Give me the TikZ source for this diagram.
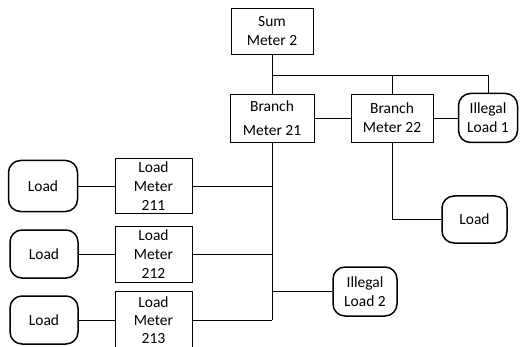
\documentclass[tikz,border=0pt]{standalone}
\usepackage{fontspec}
\setmainfont{Carlito}
\begin{document}
\begin{tikzpicture}[x=1pt,y=-1pt,
  every node/.style={font=\fontsize{15.5}{19}\selectfont, align=center, inner sep=0pt},
  meterbox/.style={draw, line width=0.8pt, rectangle},
  loadbox/.style={draw, line width=1.5pt, rounded corners=12pt},
  wire/.style={line width=0.8pt}]
\useasboundingbox (0,0) rectangle (521,347);
\clip (0,0) rectangle (521,347);
% meters
\node[meterbox, minimum width=82pt, minimum height=46pt] (sum) at (272,31) {Sum\\Meter 2};
\node[meterbox, minimum width=84pt, minimum height=48pt] (b21) at (272,118) {Branch\\[5pt]Meter 21};
\node[meterbox, minimum width=82pt, minimum height=48pt] (b22) at (392,118) {Branch\\Meter 22};
\node[loadbox, minimum width=59pt, minimum height=49pt] (il1) at (488,118) {Illegal\\Load 1};
\node[loadbox, minimum width=65pt, minimum height=47pt] (ld4) at (474.5,219.5) {Load};
\node[loadbox, minimum width=64pt, minimum height=49pt] (il2) at (365,291.5) {Illegal\\Load 2};
\node[meterbox, minimum width=77pt, minimum height=55pt] (m211) at (153.5,186) {Load\\Meter\\211};
\node[meterbox, minimum width=77pt, minimum height=56pt] (m212) at (153.5,254) {Load\\Meter\\212};
\node[meterbox, minimum width=77pt, minimum height=58pt, font=\fontsize{15.5}{18}\selectfont] (m213) at (153.5,320) {Load\\Meter\\213};
\node[loadbox, minimum width=69pt, minimum height=51pt] (ld1) at (43,186) {Load};
\node[loadbox, minimum width=68pt, minimum height=48pt] (ld2) at (44,254) {Load};
\node[loadbox, minimum width=68pt, minimum height=48pt] (ld3) at (44,320) {Load};
% connectors
\coordinate (busy) at (0,75);
\coordinate (trunkend) at (272,320);
\draw[wire] (sum.south) -- (b21.north);
\draw[wire] (sum.south |- busy) -| (b22.north);
\draw[wire] (b22.north |- busy) -| (il1.north);
\draw[wire] (b21.east) -- (b22.west);
\draw[wire] (b22.east) -- (il1.west);
\draw[wire] (b21.south) -- (trunkend);
\draw[wire] (b22.south) |- (ld4.west);
\draw[wire] (m211.east) -- (m211.east -| b21.south);
\draw[wire] (m212.east) -- (m212.east -| b21.south);
\draw[wire] (m213.east) -- (trunkend);
\draw[wire] (il2.west -| b21.south) -- (il2.west);
\draw[wire] (ld1.east) -- (m211.west);
\draw[wire] (ld2.east) -- (m212.west);
\draw[wire] (ld3.east) -- (m213.west);
\end{tikzpicture}
\end{document}
